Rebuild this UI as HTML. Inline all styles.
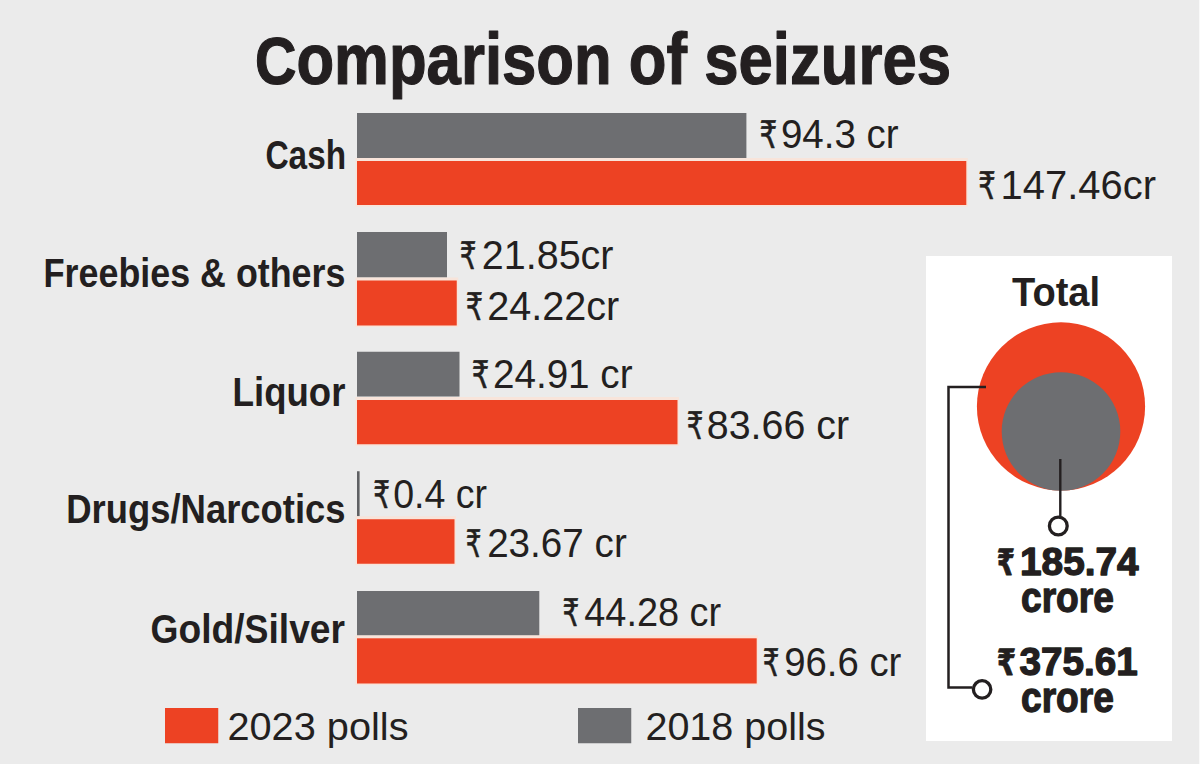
<!DOCTYPE html>
<html><head><meta charset="utf-8"><title>Comparison of seizures</title>
<style>
html,body{margin:0;padding:0;background:#ebebeb;width:1200px;height:764px;overflow:hidden}
svg{display:block}
text{font-family:'Liberation Sans', 'DejaVu Sans', sans-serif;fill:#231f20}
.rs{font-family:'DejaVu Sans',sans-serif}
</style></head><body>
<svg width="1200" height="764" viewBox="0 0 1200 764">
<rect x="357" y="113" width="389.40" height="45.20" fill="#6d6e71"/>
<rect x="355.5" y="158" width="612.30" height="48.50" fill="#f8e4da"/>
<rect x="357" y="161" width="609.30" height="44.00" fill="#ed4223"/>
<rect x="357" y="232" width="90.00" height="45.50" fill="#6d6e71"/>
<rect x="355.5" y="277.5" width="102.75" height="49.50" fill="#f8e4da"/>
<rect x="357" y="280.5" width="99.75" height="45.00" fill="#ed4223"/>
<rect x="357" y="351.75" width="102.50" height="44.75" fill="#6d6e71"/>
<rect x="355.5" y="397" width="323.50" height="48.75" fill="#f8e4da"/>
<rect x="357" y="400" width="320.50" height="44.25" fill="#ed4223"/>
<rect x="357" y="471.25" width="2.6" height="45.05" fill="#5f6063"/>
<rect x="355.5" y="516.25" width="100.50" height="49.00" fill="#f8e4da"/>
<rect x="357" y="519.25" width="97.50" height="44.50" fill="#ed4223"/>
<rect x="357" y="591" width="182.30" height="44.70" fill="#6d6e71"/>
<rect x="355.5" y="635.3" width="402.70" height="49.70" fill="#f8e4da"/>
<rect x="357" y="638.3" width="399.70" height="45.20" fill="#ed4223"/>
<rect x="1199" y="0" width="1" height="764" fill="#f9f9f9"/>
<rect x="165" y="708" width="53.25" height="35.25" fill="#ed4223"/>
<rect x="578" y="708" width="53.25" height="35.25" fill="#6d6e71"/>
<rect x="926" y="256" width="246" height="485" fill="#ffffff"/>
<circle cx="1061" cy="406.4" r="84.1" fill="#ed4223"/>
<circle cx="1061" cy="431.5" r="59.3" fill="#6d6e71"/>
<path d="M986 387 H948.5 V687.6 H972.5" fill="none" stroke="#231f20" stroke-width="2.5"/>
<path d="M1060.3 459 V516" fill="none" stroke="#231f20" stroke-width="2.4"/>
<circle cx="1058.3" cy="526" r="8.9" fill="#fff" stroke="#231f20" stroke-width="3.3"/>
<circle cx="982.1" cy="689.4" r="8.7" fill="#fff" stroke="#231f20" stroke-width="3.3"/>
<text x="254.98" y="84.00" font-size="72.00" font-weight="700" stroke="#231f20" stroke-width="1.2" stroke-linejoin="round" textLength="696.04" lengthAdjust="spacingAndGlyphs"><tspan font-size="67">C</tspan>omparison of seizures</text>
<text x="265.39" y="168.60" font-size="41.50" font-weight="700" textLength="80.69" lengthAdjust="spacingAndGlyphs"><tspan font-size="40">C</tspan>ash</text>
<text x="43.46" y="286.60" font-size="41.50" font-weight="700" textLength="301.97" lengthAdjust="spacingAndGlyphs"><tspan font-size="40">F</tspan>reebies &amp; others</text>
<text x="232.51" y="405.50" font-size="41.50" font-weight="700" textLength="112.94" lengthAdjust="spacingAndGlyphs"><tspan font-size="40">L</tspan>iquor</text>
<text x="66.21" y="523.40" font-size="41.50" font-weight="700" textLength="279.33" lengthAdjust="spacingAndGlyphs"><tspan font-size="40">D</tspan>rugs/<tspan font-size="40">N</tspan>arcotics</text>
<text x="150.50" y="642.50" font-size="41.50" font-weight="700" textLength="194.55" lengthAdjust="spacingAndGlyphs"><tspan font-size="40">G</tspan>old/<tspan font-size="40">S</tspan>ilver</text>
<text><tspan x="759.45" y="148.30" class="rs" font-size="38.00" font-weight="400" stroke="#231f20" stroke-width="0.6" stroke-linejoin="round" textLength="17.72" lengthAdjust="spacingAndGlyphs">₹</tspan><tspan x="780.96" y="148.30" font-size="40.00" font-weight="400" textLength="117.58" lengthAdjust="spacingAndGlyphs">94.3 cr</tspan></text>
<text><tspan x="978.23" y="199.20" class="rs" font-size="38.00" font-weight="400" stroke="#231f20" stroke-width="0.6" stroke-linejoin="round" textLength="17.45" lengthAdjust="spacingAndGlyphs">₹</tspan><tspan x="1000.59" y="199.20" font-size="40.00" font-weight="400" textLength="155.44" lengthAdjust="spacingAndGlyphs">147.46cr</tspan></text>
<text><tspan x="459.66" y="268.75" class="rs" font-size="38.00" font-weight="400" stroke="#231f20" stroke-width="0.6" stroke-linejoin="round" textLength="16.67" lengthAdjust="spacingAndGlyphs">₹</tspan><tspan x="481.74" y="268.75" font-size="40.00" font-weight="400" textLength="131.79" lengthAdjust="spacingAndGlyphs">21.85cr</tspan></text>
<text><tspan x="465.70" y="320.00" class="rs" font-size="38.00" font-weight="400" stroke="#231f20" stroke-width="0.6" stroke-linejoin="round" textLength="17.26" lengthAdjust="spacingAndGlyphs">₹</tspan><tspan x="487.25" y="320.00" font-size="40.00" font-weight="400" textLength="132.03" lengthAdjust="spacingAndGlyphs">24.22cr</tspan></text>
<text><tspan x="471.75" y="387.50" class="rs" font-size="38.00" font-weight="400" stroke="#231f20" stroke-width="0.6" stroke-linejoin="round" textLength="17.48" lengthAdjust="spacingAndGlyphs">₹</tspan><tspan x="492.95" y="387.50" font-size="40.00" font-weight="400" textLength="139.58" lengthAdjust="spacingAndGlyphs">24.91 cr</tspan></text>
<text><tspan x="686.69" y="438.70" class="rs" font-size="38.00" font-weight="400" stroke="#231f20" stroke-width="0.6" stroke-linejoin="round" textLength="16.56" lengthAdjust="spacingAndGlyphs">₹</tspan><tspan x="706.79" y="438.70" font-size="40.00" font-weight="400" textLength="142.27" lengthAdjust="spacingAndGlyphs">83.66 cr</tspan></text>
<text><tspan x="373.37" y="508.00" class="rs" font-size="38.00" font-weight="400" stroke="#231f20" stroke-width="0.6" stroke-linejoin="round" textLength="16.72" lengthAdjust="spacingAndGlyphs">₹</tspan><tspan x="393.23" y="508.00" font-size="40.00" font-weight="400" textLength="93.88" lengthAdjust="spacingAndGlyphs">0.4 cr</tspan></text>
<text><tspan x="465.81" y="556.50" class="rs" font-size="38.00" font-weight="400" stroke="#231f20" stroke-width="0.6" stroke-linejoin="round" textLength="15.65" lengthAdjust="spacingAndGlyphs">₹</tspan><tspan x="487.14" y="556.50" font-size="40.00" font-weight="400" textLength="139.63" lengthAdjust="spacingAndGlyphs">23.67 cr</tspan></text>
<text><tspan x="562.42" y="626.00" class="rs" font-size="38.00" font-weight="400" stroke="#231f20" stroke-width="0.6" stroke-linejoin="round" textLength="16.76" lengthAdjust="spacingAndGlyphs">₹</tspan><tspan x="584.27" y="626.00" font-size="40.00" font-weight="400" textLength="136.85" lengthAdjust="spacingAndGlyphs">44.28 cr</tspan></text>
<text><tspan x="762.78" y="675.80" class="rs" font-size="38.00" font-weight="400" stroke="#231f20" stroke-width="0.6" stroke-linejoin="round" textLength="16.64" lengthAdjust="spacingAndGlyphs">₹</tspan><tspan x="784.15" y="675.80" font-size="40.00" font-weight="400" textLength="117.18" lengthAdjust="spacingAndGlyphs">96.6 cr</tspan></text>
<text x="227.41" y="740.00" font-size="39.00" font-weight="400" textLength="181.15" lengthAdjust="spacingAndGlyphs">2023 polls</text>
<text x="645.41" y="740.00" font-size="39.00" font-weight="400" textLength="180.16" lengthAdjust="spacingAndGlyphs">2018 polls</text>
<text x="1012.00" y="305.60" font-size="40.00" font-weight="700" textLength="88.11" lengthAdjust="spacingAndGlyphs">Total</text>
<text><tspan x="996.70" y="575.10" class="rs" font-size="36.00" font-weight="700" stroke="#231f20" stroke-width="0.8" stroke-linejoin="round" textLength="18.14" lengthAdjust="spacingAndGlyphs">₹</tspan><tspan x="1020.05" y="575.10" font-size="38.30" font-weight="700" stroke="#231f20" stroke-width="1.3" stroke-linejoin="round" textLength="118.61" lengthAdjust="spacingAndGlyphs">185.74</tspan></text>
<text x="1020.97" y="611.80" font-size="42.30" font-weight="700" stroke="#231f20" stroke-width="1.3" stroke-linejoin="round" textLength="92.92" lengthAdjust="spacingAndGlyphs">crore</text>
<text><tspan x="996.67" y="675.00" class="rs" font-size="36.00" font-weight="700" stroke="#231f20" stroke-width="0.8" stroke-linejoin="round" textLength="19.28" lengthAdjust="spacingAndGlyphs">₹</tspan><tspan x="1019.64" y="675.00" font-size="38.30" font-weight="700" stroke="#231f20" stroke-width="1.3" stroke-linejoin="round" textLength="118.20" lengthAdjust="spacingAndGlyphs">375.61</tspan></text>
<text x="1020.97" y="711.90" font-size="42.30" font-weight="700" stroke="#231f20" stroke-width="1.3" stroke-linejoin="round" textLength="92.92" lengthAdjust="spacingAndGlyphs">crore</text>
</svg>
</body></html>
